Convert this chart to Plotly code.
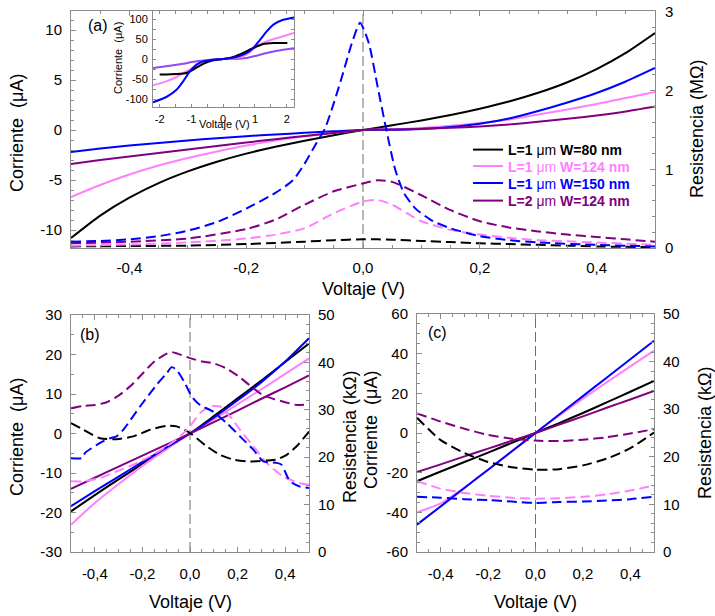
import plotly.graph_objects as go

W, H = 715, 616
FONT = "Arial, 'Liberation Sans', sans-serif"
AXIS = "#8c8c8c"
BLACK, PINK, BLUE, PURPLE, VIOLET = "#000000", "#ff80ff", "#0000ff", "#800080", "#8f4cf2"

# ---------------- panel (a): current (left, uA) ----------------
va = [-0.5, -0.45, -0.4, -0.35, -0.3, -0.25, -0.2, -0.15, -0.1, -0.05, 0.0,
      0.05, 0.1, 0.15, 0.2, 0.25, 0.3, 0.35, 0.4, 0.45, 0.5]
ia_black = [-10.8, -8.56, -6.77, -5.31, -4.14, -3.17, -2.36, -1.67, -1.07, -0.52, 0,
            0.47, 0.96, 1.5, 2.13, 2.85, 3.72, 4.78, 6.09, 7.71, 9.7]
ia_pink = [-6.7, -5.5, -4.45, -3.55, -2.8, -2.15, -1.55, -1.05, -0.62, -0.28, 0,
           0.06, 0.2, 0.42, 0.7, 1.05, 1.55, 2.05, 2.6, 3.2, 3.8]
ia_blue = [-2.2, -1.85, -1.55, -1.3, -1.05, -0.82, -0.62, -0.45, -0.28, -0.13, 0,
           0.02, 0.1, 0.3, 0.62, 1.15, 1.9, 2.75, 3.7, 4.85, 6.2]
ia_purple = [-3.4, -3.0, -2.65, -2.3, -1.95, -1.6, -1.25, -0.92, -0.6, -0.3, 0,
             0.05, 0.12, 0.22, 0.35, 0.55, 0.82, 1.12, 1.45, 1.85, 2.35]

# panel (a): resistance (right, MOhm)
va_rblue = [-0.5, -0.45, -0.4, -0.35, -0.3, -0.25, -0.2, -0.15, -0.12, -0.1, -0.08, -0.065,
            -0.05, -0.035, -0.02, -0.005, 0.01, 0.025, 0.04, 0.055, 0.07, 0.09, 0.12,
            0.15, 0.2, 0.25, 0.3, 0.4, 0.5]
ra_blue = [0.08, 0.09, 0.11, 0.15, 0.22, 0.33, 0.5, 0.7, 0.86, 1.07, 1.33, 1.52,
           1.84, 2.2, 2.58, 2.86, 2.6, 2.05, 1.5, 1.0, 0.7, 0.5, 0.34,
           0.25, 0.15, 0.1, 0.07, 0.04, 0.02]
va_r = [-0.5, -0.4, -0.3, -0.2, -0.15, -0.1, -0.05, 0.0, 0.025, 0.05, 0.1, 0.15,
        0.2, 0.25, 0.3, 0.35, 0.4, 0.45, 0.5]
ra_purple = [0.06, 0.08, 0.12, 0.24, 0.36, 0.55, 0.72, 0.82, 0.86, 0.84, 0.67, 0.48,
             0.34, 0.26, 0.21, 0.17, 0.14, 0.11, 0.08]
ra_pink = [0.03, 0.045, 0.07, 0.12, 0.17, 0.25, 0.44, 0.59, 0.61, 0.55, 0.34, 0.23,
           0.17, 0.13, 0.1, 0.085, 0.07, 0.055, 0.04]
ra_black = [0.02, 0.025, 0.03, 0.05, 0.065, 0.08, 0.1, 0.11, 0.11, 0.105, 0.09, 0.075,
            0.06, 0.05, 0.04, 0.03, 0.02, 0.015, 0.01]

# inset of (a): wide-range I-V
vi_blue = [-2.21, -1.79, -1.47, -1.26, -1.05, -0.84, -0.63, -0.32, 0.0, 0.42, 0.74, 0.95,
           1.16, 1.37, 1.58, 1.89, 2.23]
ii_blue = [-108, -95, -77, -56, -31, -14, -6, -1.7, 0, 5, 15, 27.5, 48, 69, 86, 98, 104]
vi_black = [-2.0, -1.47, -1.16, -0.95, -0.63, -0.32, 0.0, 0.32, 0.63, 0.95, 1.26, 1.58, 2.02]
ii_black = [-39, -37.5, -35, -27, -12, -3.3, 0, 5, 15, 27.5, 37.5, 40, 40]
vi_pink = [-2.21, -1.79, -1.47, -1.16, -0.84, -0.53, -0.21, 0.0, 0.42, 0.74, 1.05, 1.37,
           1.68, 2.23]
ii_pink = [-66, -56, -45, -31, -18, -7.5, -1.7, 0, 2.5, 11, 32, 44, 52, 65]
vi_violet = [-2.21, -1.68, -1.26, -0.84, -0.42, 0.0, 0.42, 0.74, 1.05, 1.47, 1.89, 2.23]
ii_violet = [-22.5, -16.7, -11.7, -5.8, -1.7, 0, 0, 2.5, 8.3, 16.7, 23, 27]

# ---------------- panel (b) ----------------
vb = [-0.5, -0.4, -0.3, -0.2, -0.1, 0.0, 0.1, 0.2, 0.3, 0.4, 0.5]
ib_black = [-19.7, -15.6, -11.6, -7.7, -3.8, 0, 4.4, 8.9, 13.4, 18.1, 22.8]
ib_blue = [-18.4, -14.6, -10.9, -7.2, -3.6, 0, 4.0, 8.4, 13.0, 18.2, 24.1]
ib_pink = [-23.1, -17.6, -12.8, -8.2, -4.0, 0, 3.6, 7.4, 11.2, 15.1, 19.0]
ib_purple = [-14.0, -11.2, -8.4, -5.6, -2.8, 0, 2.9, 5.8, 8.8, 11.7, 14.7]

vb_rpurple = [-0.5, -0.45, -0.4, -0.35, -0.3, -0.25, -0.2, -0.15, -0.1, -0.08, -0.05, 0.0,
              0.05, 0.1, 0.15, 0.2, 0.25, 0.3, 0.35, 0.4, 0.45, 0.5]
rb_purple = [30.3, 30.8, 31.0, 31.6, 33.0, 35.0, 37.6, 40.2, 41.8, 42.2, 41.8, 40.9,
             40.2, 39.8, 38.8, 37.2, 35.2, 33.3, 32.3, 31.6, 31.0, 31.2]
vb_rblue = [-0.5, -0.455, -0.441, -0.378, -0.336, -0.308, -0.28, -0.21, -0.14, -0.098,
            -0.077, -0.056, -0.021, 0.007, 0.042, 0.098, 0.154, 0.21, 0.266, 0.308,
            0.364, 0.385, 0.399, 0.42, 0.462, 0.5]
rb_blue = [19.8, 19.8, 20.9, 23.0, 24.0, 24.4, 25.8, 30.7, 35.3, 37.7,
           39.0, 38.4, 35.6, 32.8, 31.0, 29.6, 27.2, 24.4, 21.6, 19.1,
           18.8, 18.4, 17.0, 14.9, 13.8, 13.5]
vb_rblack = [-0.5, -0.448, -0.378, -0.308, -0.238, -0.168, -0.098, -0.056, 0.0, 0.07,
             0.126, 0.182, 0.252, 0.322, 0.364, 0.406, 0.448, 0.5]
rb_black = [27.2, 25.8, 24.0, 23.8, 24.4, 25.8, 26.6, 26.5, 25.1, 22.3,
            20.5, 19.5, 19.1, 19.3, 19.5, 20.5, 22.3, 25.4]
vb_rpink = [-0.5, -0.448, -0.378, -0.308, -0.238, -0.168, -0.098, -0.042, 0.0, 0.042,
            0.084, 0.126, 0.168, 0.21, 0.266, 0.322, 0.392, 0.462, 0.5]
rb_pink = [14.9, 14.9, 15.6, 17.0, 18.4, 20.2, 22.3, 24.4, 26.5, 29.3,
           30.7, 30.7, 28.6, 25.8, 22.3, 18.8, 15.9, 14.5, 14.2]

# ---------------- panel (c) ----------------
vc = [-0.5, -0.4, -0.3, -0.2, -0.1, 0.0, 0.1, 0.2, 0.3, 0.4, 0.5]
ic_black = [-24.3, -19.4, -14.6, -9.9, -5.0, 0, 5.0, 10.1, 15.4, 20.8, 26.3]
ic_blue = [-46.2, -37.0, -27.7, -18.5, -9.2, 0, 9.3, 18.6, 27.9, 37.2, 46.5]
ic_pink = [-40.0, -35.5, -27.5, -18.5, -9.3, 0, 8.8, 17.3, 25.5, 33.6, 41.5]
ic_purple = [-19.7, -15.8, -11.8, -7.9, -3.9, 0, 4.2, 8.4, 12.7, 16.9, 21.2]
rc_purple = [29.1, 27.4, 25.9, 24.6, 23.8, 23.4, 23.3, 23.6, 24.1, 24.9, 25.8]
rc_black = [28.2, 23.5, 20.8, 18.9, 17.8, 17.3, 17.4, 18.2, 19.6, 21.8, 25.1]
rc_pink = [14.9, 13.3, 12.4, 11.8, 11.4, 11.2, 11.3, 11.6, 12.1, 12.9, 14.0]
rc_blue = [11.6, 11.4, 11.1, 10.9, 10.6, 10.3, 10.5, 10.6, 10.8, 11.1, 11.6]

# tick labels
xv_main = [-0.4, -0.2, 0.0, 0.2, 0.4]
xt_main = ["-0,4", "-0,2", "0,0", "0,2", "0,4"]
ya_vals = [-10, -5, 0, 5, 10]
ya_text = ["-10", "-5", "0", "5", "10"]
ya2_vals = [0, 1, 2, 3]
yb_vals = [-30, -20, -10, 0, 10, 20, 30]
yb_text = ["-30", "-20", "-10", "0", "10", "20", "30"]
yc_vals = [-60, -40, -20, 0, 20, 40, 60]
yc_text = ["-60", "-40", "-20", "0", "20", "40", "60"]
yr_vals = [0, 10, 20, 30, 40, 50]
xi_vals = [-2, -1, 0, 1, 2]
xi_text = ["-2", "-1", "0", "1", "2"]
yi_vals = [-100, -50, 0, 50, 100]
yi_text = ["-100", "-50", "0", "50", "100"]

legend_names = [
    ("<b>L=1 </b>μm<b> W=80 nm</b>", BLACK),
    ("<b>L=1 </b>μm<b> W=124 nm</b>", PINK),
    ("<b>L=1 </b>μm<b> W=150 nm</b>", BLUE),
    ("<b>L=2 </b>μm<b> W=124 nm</b>", PURPLE),
]
legend_rows_y = [150, 166.5, 183.5, 201]   # pixel centres of the legend rows

fig = go.Figure()
LW = 2
DASH = "10px,5px"


def add(x, y, color, xa, ya, dash=None, name=None, legend=None):
    fig.add_trace(go.Scatter(
        x=x, y=y, mode="lines", xaxis=xa, yaxis=ya,
        line=dict(color=color, width=LW, dash=dash, shape="spline", smoothing=0.6),
        name=name if name else "", showlegend=legend is not None,
        legend=legend if legend else "legend", hoverinfo="skip"))


# panel (a)
legend_ids = ["legend", "legend2", "legend3", "legend4"]
for (lbl, col), yv, lid in zip(legend_names, [ia_black, ia_pink, ia_blue, ia_purple], legend_ids):
    add(va, yv, col, "x", "y", name=f"<span style='color:{col}'>{lbl}</span>", legend=lid)
add(va_r, ra_black, BLACK, "x", "y2", dash=DASH)
add(va_r, ra_pink, PINK, "x", "y2", dash=DASH)
add(va_r, ra_purple, PURPLE, "x", "y2", dash=DASH)
add(va_rblue, ra_blue, BLUE, "x", "y2", dash=DASH)

# inset
add(vi_violet, ii_violet, VIOLET, "x4", "y7")
add(vi_pink, ii_pink, PINK, "x4", "y7")
add(vi_black, ii_black, BLACK, "x4", "y7")
add(vi_blue, ii_blue, BLUE, "x4", "y7")

# panel (b)
add(vb, ib_black, BLACK, "x2", "y3")
add(vb, ib_pink, PINK, "x2", "y3")
add(vb, ib_blue, BLUE, "x2", "y3")
add(vb, ib_purple, PURPLE, "x2", "y3")
add(vb_rblack, rb_black, BLACK, "x2", "y4", dash=DASH)
add(vb_rpink, rb_pink, PINK, "x2", "y4", dash=DASH)
add(vb_rblue, rb_blue, BLUE, "x2", "y4", dash=DASH)
add(vb_rpurple, rb_purple, PURPLE, "x2", "y4", dash=DASH)

# panel (c)
add(vc, ic_black, BLACK, "x3", "y5")
add(vc, ic_pink, PINK, "x3", "y5")
add(vc, ic_blue, BLUE, "x3", "y5")
add(vc, ic_purple, PURPLE, "x3", "y5")
add(vc, rc_black, BLACK, "x3", "y6", dash=DASH)
add(vc, rc_pink, PINK, "x3", "y6", dash=DASH)
add(vc, rc_blue, BLUE, "x3", "y6", dash=DASH)
add(vc, rc_purple, PURPLE, "x3", "y6", dash=DASH)

TF = dict(size=15, color="black", family=FONT)


def ax(**kw):
    base = dict(showline=True, linecolor=AXIS, linewidth=1, ticks="inside", ticklen=5,
                tickcolor=AXIS, tickwidth=1, showgrid=False, zeroline=False, tickfont=TF,
                tickmode="array", fixedrange=True, automargin=False)
    minor = kw.pop("minor_dtick", None)
    if minor is not None:
        base["minor"] = dict(ticks="inside", ticklen=3, tickcolor=AXIS, tickwidth=1,
                             dtick=minor, tick0=0, showgrid=False)
    base.update(kw)
    return base


def px(x):
    return x / W


def py(y):
    return 1 - y / H


legends = {}
for lid, ry in zip(legend_ids, legend_rows_y):
    legends[lid] = dict(x=px(468), y=py(ry), xanchor="left", yanchor="middle",
                        bgcolor="rgba(0,0,0,0)", font=dict(size=14, family=FONT),
                        itemwidth=30, tracegroupgap=0)

fig.update_layout(
    width=W, height=H, margin=dict(l=0, r=0, t=0, b=0, autoexpand=False),
    paper_bgcolor="white", plot_bgcolor="white",
    font=dict(family=FONT, color="black"),
    # (a)
    xaxis=ax(domain=[px(71), px(655)], anchor="y", range=[-0.5, 0.5], tickvals=xv_main,
             ticktext=xt_main, mirror="ticks", minor_dtick=0.05, ticklabelstandoff=6),
    yaxis=ax(domain=[py(248), py(11)], anchor="x", range=[-11.8, 11.9], tickvals=ya_vals,
             ticktext=ya_text, minor_dtick=1, ticklabelstandoff=5),
    yaxis2=ax(overlaying="y", side="right", anchor="x", range=[0, 3.01], tickvals=ya2_vals,
              ticktext=[str(v) for v in ya2_vals], minor_dtick=0.2, ticklabelstandoff=6),
    # (b)
    xaxis2=ax(domain=[px(71), px(309)], anchor="y3", range=[-0.5, 0.5], tickvals=xv_main,
              ticktext=xt_main, mirror="ticks", minor_dtick=0.05, ticklabelstandoff=8),
    yaxis3=ax(domain=[py(552), py(315)], anchor="x2", range=[-30, 30], tickvals=yb_vals,
              ticktext=yb_text, minor_dtick=5, ticklabelstandoff=5),
    yaxis4=ax(overlaying="y3", side="right", anchor="x2", range=[0, 50], tickvals=yr_vals,
              ticktext=[str(v) for v in yr_vals], minor_dtick=2, ticklabelstandoff=5),
    # (c)
    xaxis3=ax(domain=[px(417), px(654)], anchor="y5", range=[-0.5, 0.5], tickvals=xv_main,
              ticktext=xt_main, mirror="ticks", minor_dtick=0.05, ticklabelstandoff=8),
    yaxis5=ax(domain=[py(552), py(314)], anchor="x3", range=[-60, 60], tickvals=yc_vals,
              ticktext=yc_text, minor_dtick=5, ticklabelstandoff=5),
    yaxis6=ax(overlaying="y5", side="right", anchor="x3", range=[0, 50], tickvals=yr_vals,
              ticktext=[str(v) for v in yr_vals], minor_dtick=2, ticklabelstandoff=5),
    # inset
    xaxis4=ax(domain=[px(153), px(294)], anchor="y7", range=[-2.21, 2.23], tickvals=xi_vals,
              ticktext=xi_text, mirror="ticks", minor_dtick=0.5, ticklen=3,
              tickfont=dict(size=11, color="black", family=FONT), ticklabelstandoff=2),
    yaxis7=ax(domain=[py(107), py(11)], anchor="x4", range=[-120, 120], tickvals=yi_vals,
              ticktext=yi_text, mirror="ticks", minor_dtick=25, ticklen=3,
              tickfont=dict(size=11, color="black", family=FONT), ticklabelstandoff=2),
    showlegend=True,
    **legends,
)

# zero-voltage guide lines
for xa, ya in [("x", "y"), ("x2", "y3"), ("x3", "y5")]:
    fig.add_shape(type="line", xref=xa, yref=f"{ya} domain", x0=0, x1=0, y0=0, y1=1,
                  line=dict(color="#6e6e6e", width=1, dash="10px,4px"), layer="below")

TITLE = 18
ann = [
    ("(a)", 98, 25, 0, 16),
    ("(b)", 90, 335, 0, 16),
    ("(c)", 437, 332, 0, 16),
    ("Corriente\u00a0 (μA)", 17, 133, -90, TITLE),
    ("Resistencia (MΩ)", 697, 129, -90, TITLE),
    ("Voltaje (V)", 363, 289, 0, TITLE),
    ("Corriente\u00a0 (μA)", 17, 437, -90, TITLE),
    ("Resistencia (kΩ)", 350, 437, -90, TITLE),
    ("Voltaje (V)", 190, 602, 0, TITLE),
    ("Corriente\u00a0 (μA)", 371, 430, -90, TITLE),
    ("Resistencia (kΩ)", 705, 433, -90, TITLE),
    ("Voltaje (V)", 535, 602, 0, TITLE),
    ("Corriente\u00a0 (μA)", 118, 58, -90, 11),
    ("Voltaje (V)", 224, 124, 0, 11),
]
for text, x, y, ang, size in ann:
    fig.add_annotation(text=text, x=px(x), y=py(y), xref="paper", yref="paper",
                       xanchor="center", yanchor="middle", showarrow=False, textangle=ang,
                       font=dict(size=size, family=FONT, color="black"))

fig.write_html("out.html", config={"displayModeBar": False},
               post_script="document.body.style.margin='0px';document.body.style.padding='0px';")
